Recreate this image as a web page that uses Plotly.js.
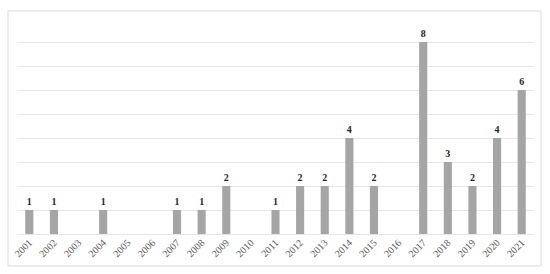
<!DOCTYPE html>
<html>
<head>
<meta charset="utf-8">
<script src="https://cdn.plot.ly/plotly-3.0.1.min.js"></script>
<style>
  html, body { margin: 0; padding: 0; background: #fff; }
  #chart { width: 550px; height: 274px; }
</style>
</head>
<body>
<div id="chart"></div>
<script>
var years = ['2001','2002','2003','2004','2005','2006','2007','2008','2009','2010',
             '2011','2012','2013','2014','2015','2016','2017','2018','2019','2020','2021'];
var counts = [1,1,0,1,0,0,1,1,2,0,1,2,2,4,2,0,8,3,2,4,6];

var labels = counts.map(function(v){ return v > 0 ? String(v) : ''; });

var trace = {
  x: years,
  y: counts,
  type: 'bar',
  text: labels,
  textposition: 'outside',
  cliponaxis: false,
  textfont: {family: 'Liberation Serif', size: 10, color: '#262626', weight: 'bold'},
  marker: {color: '#a5a5a5'},
  hoverinfo: 'none'
};

var layout = {
  width: 550,
  height: 274,
  margin: {l: 17, r: 16, t: 18, b: 40},
  paper_bgcolor: '#fff',
  plot_bgcolor: '#fff',
  bargap: 0.67,
  showlegend: false,
  font: {family: 'Liberation Serif', color: '#595959'},
  xaxis: {
    type: 'category',
    tickangle: -45,
    tickfont: {size: 10, color: '#595959'},
    showgrid: false,
    ticks: '',
    showline: false
  },
  yaxis: {
    range: [0, 9],
    dtick: 1,
    showticklabels: false,
    showgrid: true,
    gridcolor: '#e6e6e6',
    gridwidth: 1,
    zeroline: true,
    zerolinecolor: '#e6e6e6',
    zerolinewidth: 1,
    showline: false
  },
  shapes: [{
    type: 'rect', xref: 'paper', yref: 'paper',
    x0: -0.0174, x1: 1.0135, y0: -0.148, y1: 1.0324,
    line: {color: '#d9d9d9', width: 1}
  }]
};

Plotly.newPlot('chart', [trace], layout, {displayModeBar: false, staticPlot: true});
</script>
</body>
</html>
